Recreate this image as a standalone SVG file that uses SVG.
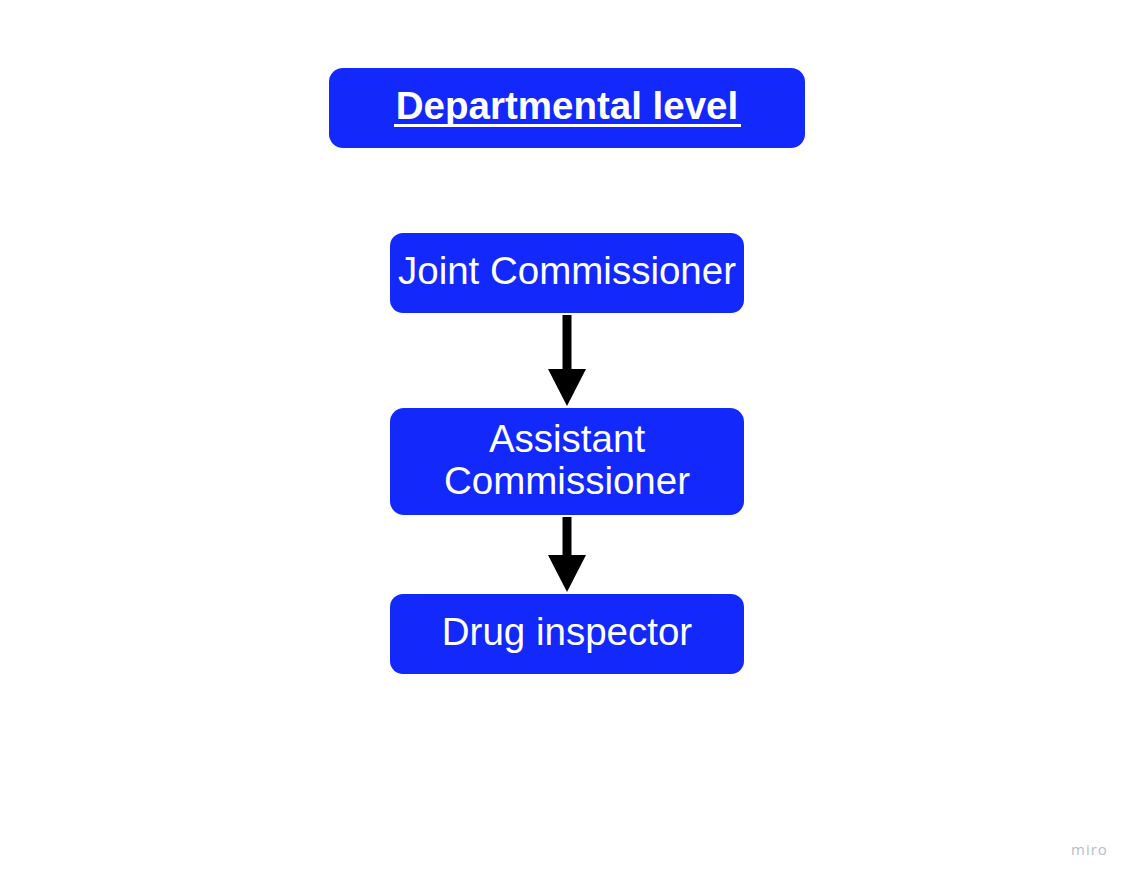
<svg xmlns="http://www.w3.org/2000/svg" width="1133" height="881" viewBox="0 0 1133 881">
<style>
.box{fill:#1329fb}
.t{fill:#fff;font-family:"Liberation Sans",Arial,sans-serif;font-size:38.5px;text-anchor:middle}
.b{font-weight:bold}
.wm{fill:#b8bcc6;font-family:"Open Sans","Liberation Sans",sans-serif;font-size:15px;letter-spacing:1px}
</style>
<defs>
<marker id="ah" markerUnits="userSpaceOnUse" markerWidth="40" markerHeight="40" refX="19" refY="38" orient="auto" viewBox="0 0 40 40">
<path d="M0,0 L38,0 L19,38 Z" fill="#000"/>
</marker>
</defs>
<rect width="1133" height="881" fill="#fff"/>
<g id="node-departmental">
<rect class="box" x="329" y="68" width="476" height="80" rx="14"/>
<text class="t b" x="567" y="119">Departmental level</text>
<rect x="394" y="124" width="347" height="3" fill="#fff"/>
</g>
<g id="node-joint">
<rect class="box" x="390" y="233" width="354" height="80" rx="13"/>
<text class="t" x="567" y="284">Joint Commissioner</text>
</g>
<g id="node-assistant">
<rect class="box" x="390" y="408" width="354" height="107" rx="14"/>
<text class="t" x="567" y="452">Assistant</text>
<text class="t" x="567" y="494">Commissioner</text>
</g>
<g id="node-drug">
<rect class="box" x="390" y="594" width="354" height="80" rx="13"/>
<text class="t" x="567" y="645">Drug inspector</text>
</g>
<g id="connectors">
<line x1="567" y1="315" x2="567" y2="370" stroke="#000" stroke-width="9"/>
<path d="M548,369 L586,369 L567,406 Z" fill="#000"/>
<line x1="567" y1="517" x2="567" y2="556" stroke="#000" stroke-width="9"/>
<path d="M548,555 L586,555 L567,592 Z" fill="#000"/>
</g>
<text class="wm" x="1071" y="855">miro</text>
</svg>
